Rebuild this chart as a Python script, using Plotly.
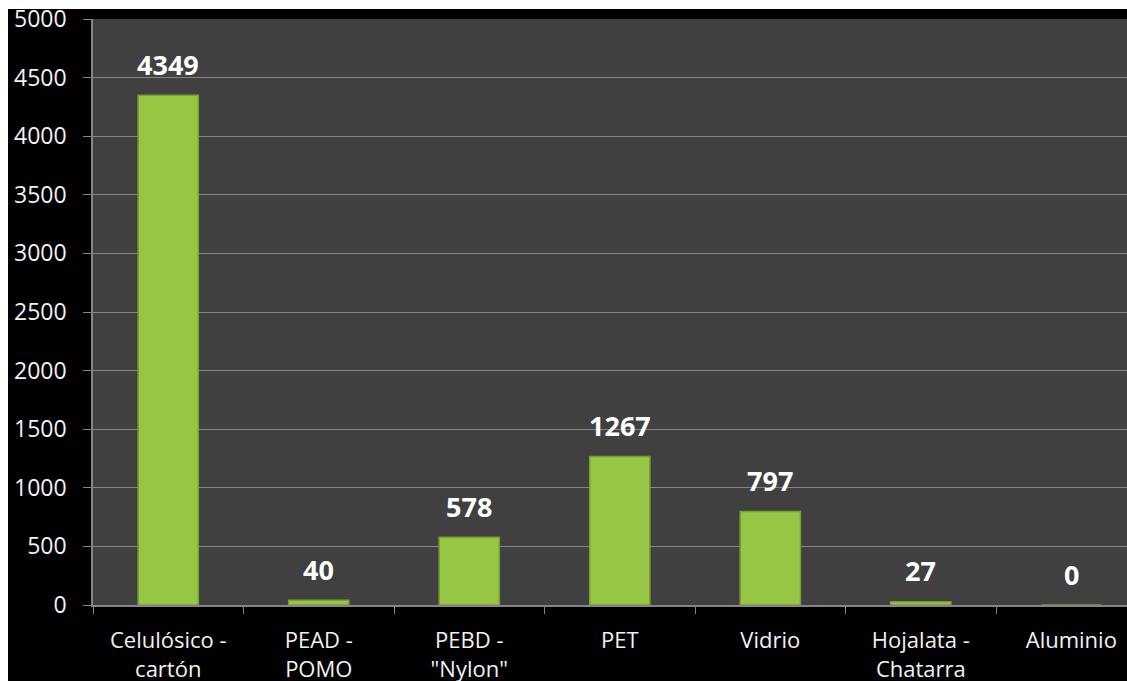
import plotly.graph_objects as go

categories = ["Celulósico -<br>cartón", "PEAD -<br>POMO", "PEBD -<br>\"Nylon\"", "PET",
              "Vidrio", "Hojalata -<br>Chatarra", "Aluminio"]
values = [4349, 40, 578, 1267, 797, 27, 0]
y_ticks = [0, 500, 1000, 1500, 2000, 2500, 3000, 3500, 4000, 4500, 5000]

FONT = "Open Sans"
GRID = "#858585"

W, H = 1127, 681
L, T, B, R = 93, 19, 76, 0
plot_w, plot_h = W - L - R, H - T - B

fig = go.Figure()
fig.add_trace(go.Bar(
    x=categories, y=values, width=0.4,
    marker=dict(color="#97c645", line=dict(color="#7a9e33", width=1.5)),
    hoverinfo="x+y",
))

for c, v in zip(categories, values):
    fig.add_annotation(x=c, y=v, text=f"<b>{v}</b>", showarrow=False,
                       yanchor="middle", yshift=31,
                       font=dict(family=FONT, size=27, color="#ffffff"))

# white strips along the top and left edges (as in the reference picture)
fig.add_shape(type="rect", xref="paper", yref="paper",
              x0=-L / plot_w - 0.01, x1=1.01, y0=1 + (T - 9) / plot_h, y1=1 + T / plot_h + 0.01,
              fillcolor="white", line_width=0, layer="above")
fig.add_shape(type="rect", xref="paper", yref="paper",
              x0=-L / plot_w - 0.01, x1=-(L - 8) / plot_w, y0=-B / plot_h - 0.01, y1=1 + T / plot_h + 0.01,
              fillcolor="white", line_width=0, layer="above")

fig.update_layout(
    width=W, height=H,
    margin=dict(l=L, r=R, t=T, b=B, pad=0, autoexpand=False),
    paper_bgcolor="black", plot_bgcolor="#404040",
    showlegend=False,
    font=dict(family=FONT, color="#f2f2f2"),
)
fig.update_xaxes(
    range=[-0.5, 6.37], automargin=False,
    showgrid=False, showline=True, linecolor=GRID, linewidth=1.5,
    ticks="outside", tickson="boundaries", ticklen=7, tickcolor=GRID, tickwidth=1,
    tickfont=dict(family=FONT, size=22, color="#f2f2f2"),
    ticklabelstandoff=15,
)
fig.update_yaxes(
    range=[0, 5000], tickvals=y_ticks, automargin=False,
    showgrid=True, gridcolor=GRID, gridwidth=1.2,
    showline=True, linecolor=GRID, linewidth=1.5, zeroline=False,
    ticks="outside", ticklen=8, tickcolor=GRID, tickwidth=1,
    tickfont=dict(family=FONT, size=23, color="#f2f2f2"),
    ticklabelstandoff=12, ticklabeloverflow="allow",
)

fig.write_html(
    "out.html",
    config={"displayModeBar": False},
    post_script="document.body.style.margin='0';"
                "document.body.style.background='black';"
                "document.documentElement.style.background='black';"
                "document.documentElement.style.overflow='hidden';"
                "document.body.style.overflow='hidden';",
)
